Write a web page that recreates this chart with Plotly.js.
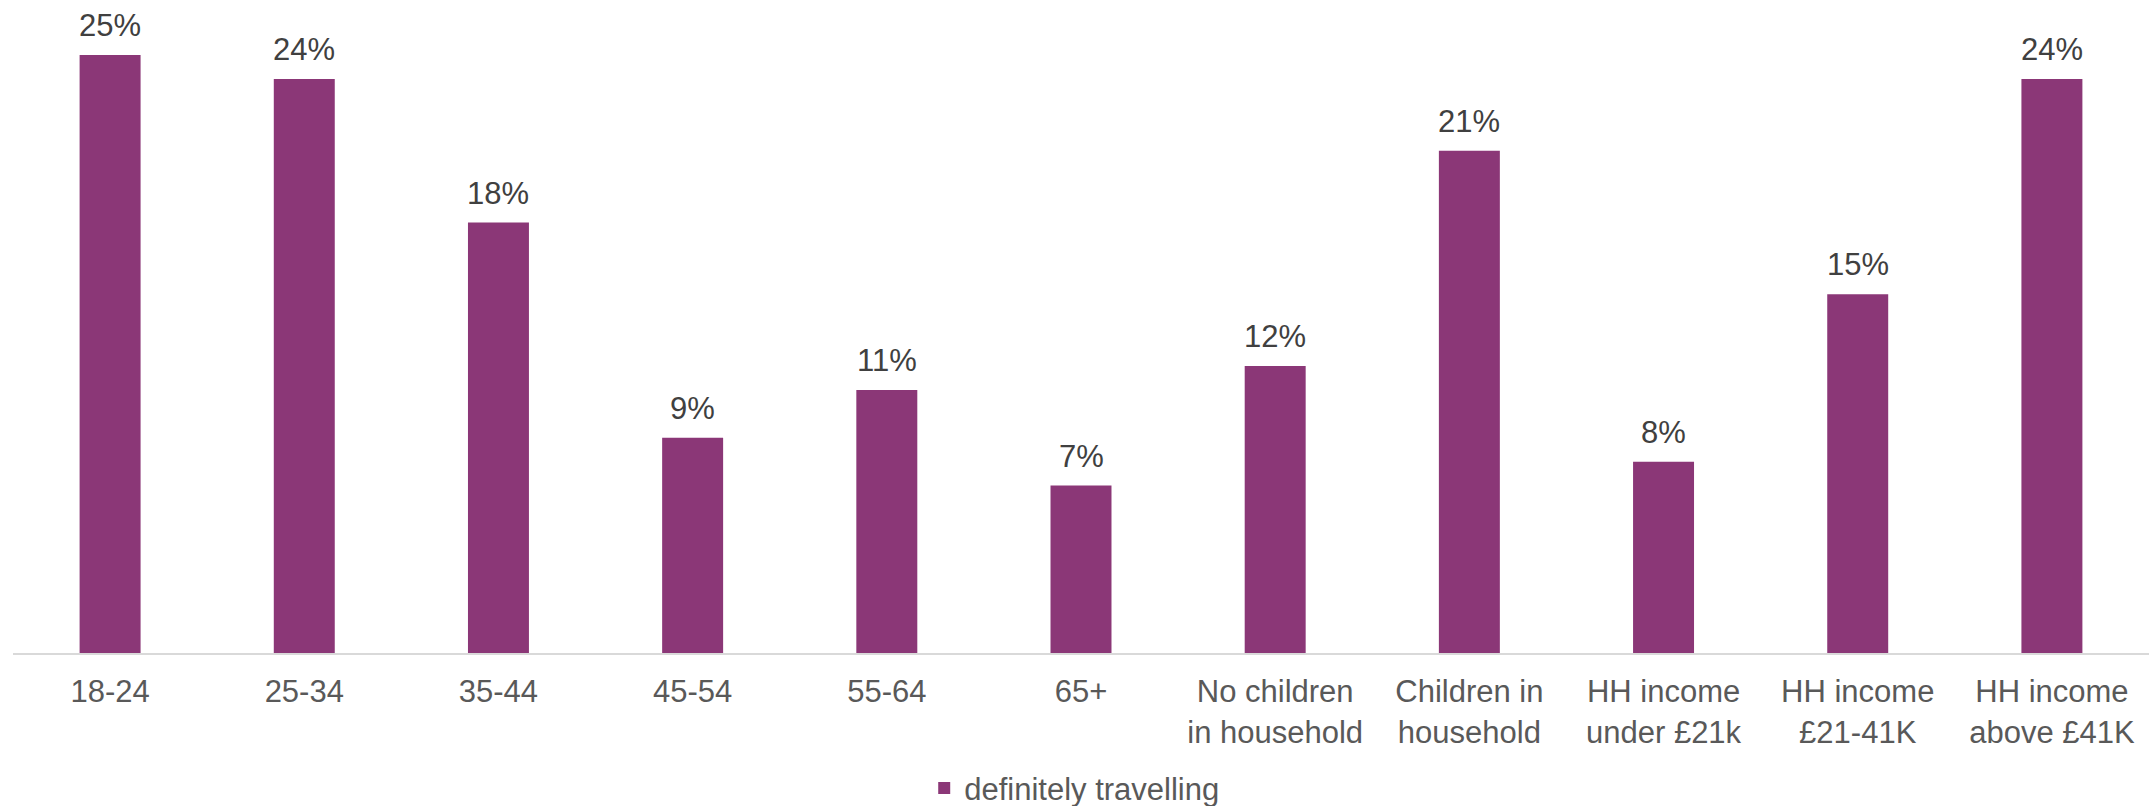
<!DOCTYPE html>
<html>
<head>
<meta charset="utf-8">
<script src="https://cdn.plot.ly/plotly-3.0.1.min.js"></script>
<style>html,body{margin:0;padding:0;background:#fff;}#chart{width:2155px;height:806px;}</style>
</head>
<body>
<div id="chart"></div>
<script>
var categories = ["18-24", "25-34", "35-44", "45-54", "55-64", "65+",
  "No children<br>in household", "Children in<br>household",
  "HH income<br>under £21k", "HH income<br>£21-41K", "HH income<br>above £41K"];
var values = [25, 24, 18, 9, 11, 7, 12, 21, 8, 15, 24];
var valueLabels = ["25%", "24%", "18%", "9%", "11%", "7%", "12%", "21%", "8%", "15%", "24%"];
var seriesName = "definitely travelling";

var FONT = "'Liberation Sans', Arial, sans-serif";

var trace = {
  type: "bar",
  x: categories,
  y: values,
  name: seriesName,
  marker: {color: "#8B3777"},
  hoverinfo: "none",
  showlegend: true
};

var annotations = categories.map(function (c, i) {
  return {
    x: c, y: values[i], xref: "x", yref: "y",
    text: valueLabels[i], showarrow: false,
    yanchor: "bottom", yshift: 10,
    font: {family: FONT, size: 31, color: "#404040"}
  };
});

var layout = {
  width: 2155, height: 806,
  margin: {l: 13, r: 6, t: 13, b: 153, pad: 0, autoexpand: false},
  paper_bgcolor: "#ffffff", plot_bgcolor: "#ffffff",
  bargap: 0.686,
  font: {family: FONT, size: 31, color: "#595959"},
  xaxis: {
    type: "category", automargin: false,
    showline: true, linecolor: "#d9d9d9", linewidth: 2,
    showgrid: false, zeroline: false, ticks: "",
    ticklabelstandoff: 10,
    tickfont: {family: FONT, size: 31, color: "#595959"},
    fixedrange: true
  },
  yaxis: {
    range: [0, 26.76], visible: false, showgrid: false, zeroline: false, fixedrange: true
  },
  showlegend: true,
  legend: {
    orientation: "h", x: 0.4266, xanchor: "left", y: -0.2115, yanchor: "middle",
    font: {family: FONT, size: 31, color: "#595959"},
    bgcolor: "rgba(0,0,0,0)"
  },
  annotations: annotations
};

Plotly.newPlot("chart", [trace], layout, {displayModeBar: false, staticPlot: true});
</script>
</body>
</html>
